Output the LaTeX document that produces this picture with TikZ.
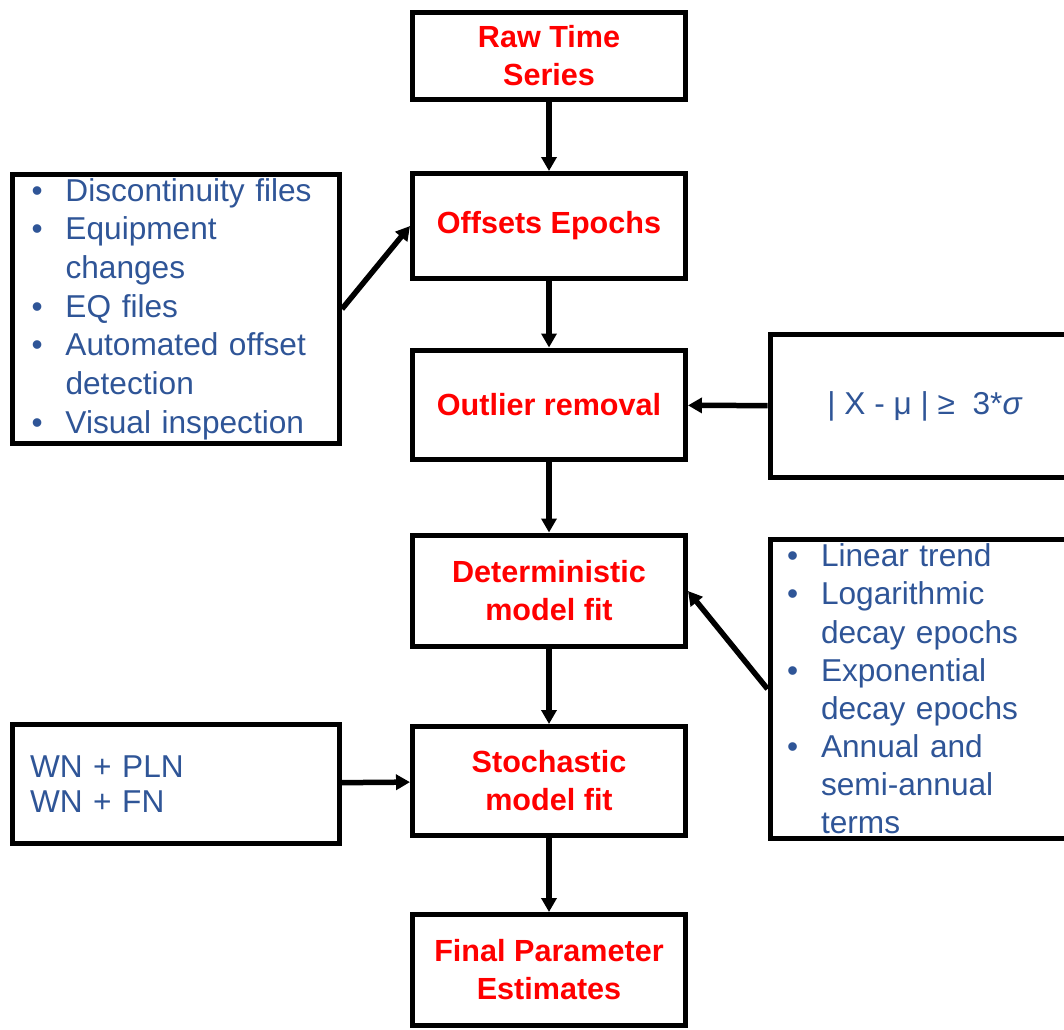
\documentclass[tikz,border=0pt]{standalone}
\usepackage{fontspec}
\setmainfont{Liberation Sans}
\usetikzlibrary{arrows.meta}
\definecolor{titlered}{RGB}{255,0,0}
\definecolor{itemblue}{RGB}{47,85,151}
\newcommand{\itm}[1]{\hangindent=0.68cm\hangafter=1\noindent\makebox[0.68cm][l]{\textbullet}#1\par}
\begin{document}
\begin{tikzpicture}[x=0.02cm, y=-0.02cm,
  stage/.style={rectangle, draw=black, line width=0.1cm, minimum width=5.46cm, minimum height=2.2cm, align=center, text=titlered, font=\fontsize{17.4}{21.6}\selectfont\bfseries},
  infobox/.style={rectangle, draw=black, line width=0.1cm, align=left, text=itemblue, font=\fontsize{18}{22}\selectfont},
  flow/.style={-{Triangle[length=0.28cm, width=0.3cm]}, line width=0.11cm}]
\useasboundingbox (0,0) rectangle (1064,1030);

% Main chain
\node (raw) [stage, minimum height=1.74cm] at (549,56) {Raw Time\\Series};
\node (offsets) [stage, minimum height=2.1cm] at (549,226) {Offsets Epochs};
\node (outlier) [stage] at (549,405) {Outlier removal};
\node (determ) [stage, minimum height=2.24cm] at (549,591) {Deterministic\\model fit};
\node (stoch) [stage, minimum height=2.18cm] at (549,781) {Stochastic\\model fit};
\node (final) [stage, minimum height=2.22cm] at (549,970) {Final Parameter\\Estimates};

% Side inputs
\node (sources) [infobox, minimum width=6.54cm, minimum height=5.38cm, text width=5.78cm, inner xsep=0.38cm, inner ysep=0cm] at (176,309)
  {\itm{Discontinuity files}\itm{Equipment\newline changes}\itm{EQ files}\itm{Automated offset\newline detection}\itm{Visual inspection}};
\node (criterion) [infobox, minimum width=6.2cm, minimum height=2.86cm] at (925,406) {| X - μ | ≥\ \ 3*\textit{σ}};
\node (terms) [infobox, minimum width=6.2cm, minimum height=6cm, text width=5.52cm, inner xsep=0.34cm, inner ysep=0cm, font=\fontsize{18}{21.7}\selectfont] at (925,689)
  {\itm{Linear trend}\itm{Logarithmic\newline decay epochs}\itm{Exponential\newline decay epochs}\itm{Annual and\newline semi-annual\newline terms}};
\node (noise) [infobox, minimum width=6.54cm, minimum height=2.38cm, text width=5.84cm, inner xsep=0.35cm, font=\fontsize{18}{20}\selectfont] at (176,784) {WN + PLN\\WN + FN};

% Connectors
\draw[flow] (raw) -- (offsets);
\draw[flow] (offsets) -- (outlier);
\draw[flow] (outlier) -- (determ);
\draw[flow] (determ) -- (stoch);
\draw[flow] (stoch) -- (final);
\draw[flow] (sources.east) -- (offsets.west);
\draw[flow] (criterion) -- (outlier);
\draw[flow] (terms.west) -- (determ.east);
\draw[flow] (noise) -- (stoch);

\end{tikzpicture}
\end{document}
